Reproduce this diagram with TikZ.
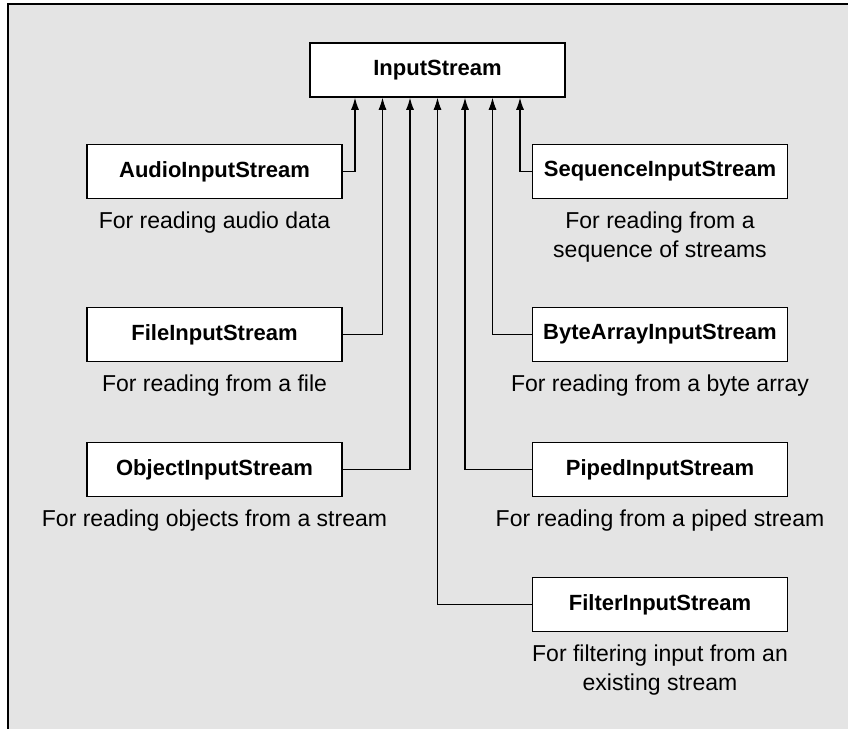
\documentclass[tikz,border=0pt]{standalone}
\usepackage{fontspec}
\setmainfont{Liberation Sans}
\usetikzlibrary{positioning,arrows.meta}
\definecolor{panel}{HTML}{E4E4E4}

\begin{document}
\begin{tikzpicture}[x=0.5pt, y=-0.5pt, >={Latex[length=6pt,width=4pt]},
  cls/.style={draw, line width=0.75pt, fill=white, minimum width=127.5pt, minimum height=27pt, inner sep=0pt, font=\fontsize{11}{13}\selectfont\bfseries},
  note/.style={align=center, inner sep=0pt, font=\fontsize{11.5}{14.5}\selectfont},
  link/.style={->, line width=0.55pt}]
  % panel
  \useasboundingbox (0,0) rectangle (848,729);
  \fill[panel] (8,4) rectangle (848,729);
  \draw[line width=1pt] (8,729) -- (8,4) -- (848,4);

  \node[cls] (inp) at (437.5,70) {InputStream};
  \node[cls] (aud) at (214.5,171.5) {AudioInputStream};
  \node[cls] (file) at (214.5,334.5) {FileInputStream};
  \node[cls] (obj) at (214.5,469.5) {ObjectInputStream};
  \node[cls] (seq) at (660,171.5) {SequenceInputStream};
  \node[cls] (byte) at (660,334.5) {ByteArrayInputStream};
  \node[cls] (pipe) at (660,469.5) {PipedInputStream};
  \node[cls] (filt) at (660,604.5) {FilterInputStream};

  \node[note, below=6pt of aud] (audtxt) {For reading audio data};
  \node[note, below=6pt of file] (filetxt) {For reading from a file};
  \node[note, below=6pt of obj] (objtxt) {For reading objects from a stream};
  \node[note, below=6pt of seq] (seqtxt) {For reading from a\\sequence of streams};
  \node[note, below=6pt of byte] (bytetxt) {For reading from a byte array};
  \node[note, below=6pt of pipe] (pipetxt) {For reading from a piped stream};
  \node[note, below=6pt of filt] (filttxt) {For filtering input from an\\existing stream};

  \draw[link] (aud.east) -| ([xshift=-41.25pt]inp.south);
  \draw[link] (file.east) -| ([xshift=-27.5pt]inp.south);
  \draw[link] (obj.east) -| ([xshift=-13.75pt]inp.south);
  \draw[link] (filt.west) -| (inp.south);
  \draw[link] (pipe.west) -| ([xshift=13.75pt]inp.south);
  \draw[link] (byte.west) -| ([xshift=27.5pt]inp.south);
  \draw[link] (seq.west) -| ([xshift=41.25pt]inp.south);
\end{tikzpicture}
\end{document}
